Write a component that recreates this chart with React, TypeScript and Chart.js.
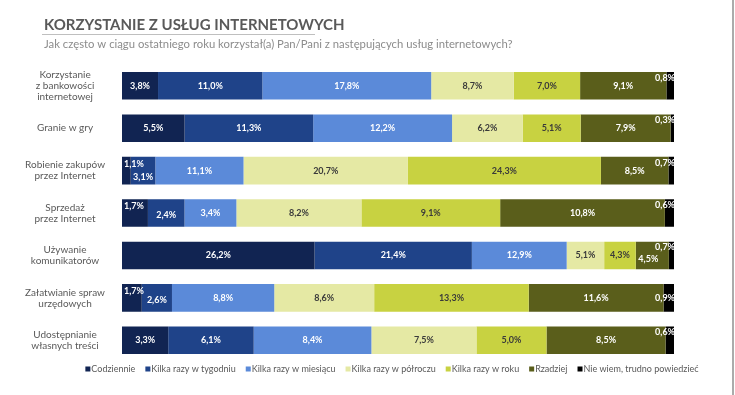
import React, { useEffect, useRef } from 'react';
import { Chart, registerables } from 'chart.js';

Chart.register(...registerables);

const titleText = 'KORZYSTANIE Z USŁUG INTERNETOWYCH';
const subtitleText = 'Jak często w ciągu ostatniego roku korzystał(a) Pan/Pani z następujących usług internetowych?';

const categories: (string | string[])[] = [
  ['Korzystanie', 'z bankowości', 'internetowej'],
  'Granie w gry',
  ['Robienie zakupów', 'przez Internet'],
  ['Sprzedaż', 'przez Internet'],
  ['Używanie', 'komunikatorów'],
  ['Załatwianie spraw', 'urzędowych'],
  ['Udostępnianie', 'własnych treści'],
];

const seriesNames = [
  'Codziennie',
  'Kilka razy w tygodniu',
  'Kilka razy w miesiącu',
  'Kilka razy w półroczu',
  'Kilka razy w roku',
  'Rzadziej',
  'Nie wiem, trudno powiedzieć',
];

const codziennie = [3.8, 5.5, 1.1, 1.7, 26.2, 1.7, 3.3];
const wTygodniu = [11.0, 11.3, 3.1, 2.4, 21.4, 2.6, 6.1];
const wMiesiacu = [17.8, 12.2, 11.1, 3.4, 12.9, 8.8, 8.4];
const wPolroczu = [8.7, 6.2, 20.7, 8.2, 5.1, 8.6, 7.5];
const wRoku = [7.0, 5.1, 24.3, 9.1, 4.3, 13.3, 5.0];
const rzadziej = [9.1, 7.9, 8.5, 10.8, 4.5, 11.6, 8.5];
const nieWiem = [0.8, 0.3, 0.7, 0.6, 0.7, 0.9, 0.6];

const seriesValues = [codziennie, wTygodniu, wMiesiacu, wPolroczu, wRoku, rzadziej, nieWiem];

const colors = ['#112452', '#1F4389', '#5B8AD9', '#E5E9A4', '#C8D241', '#5A5E1B', '#000000'];
const labelColors = ['#FFFFFF', '#FFFFFF', '#FFFFFF', '#3A3A3A', '#3A3A3A', '#FFFFFF', '#FFFFFF'];

const FONT = 'Lato, "Open Sans", sans-serif';

const fmt = (v: number) => v.toFixed(1).replace('.', ',') + '%';

const decorPlugin = {
  id: 'decor',
  afterDraw(chart: any) {
    const ctx = chart.ctx as CanvasRenderingContext2D;
    ctx.save();
    // header
    ctx.fillStyle = '#595959';
    ctx.font = `bold 15px ${FONT}`;
    ctx.textAlign = 'left';
    ctx.textBaseline = 'alphabetic';
    ctx.fillText(titleText, 44, 30);
    ctx.strokeStyle = '#BFBFBF';
    ctx.lineWidth = 1;
    ctx.beginPath();
    ctx.moveTo(42, 34.5);
    ctx.lineTo(315, 34.5);
    ctx.stroke();
    ctx.fillStyle = '#8C8C8C';
    ctx.font = `11.3px ${FONT}`;
    ctx.fillText(subtitleText, 44, 48);
    // right frame line
    ctx.strokeStyle = '#8F8F8F';
    ctx.lineWidth = 1.5;
    ctx.beginPath();
    ctx.moveTo(733, 0);
    ctx.lineTo(733, chart.height);
    ctx.stroke();
    // legend
    ctx.font = `9px ${FONT}`;
    const box = 5;
    const gapBox = 1;
    const gapItem = 10;
    const widths = seriesNames.map((n) => box + gapBox + ctx.measureText(n).width);
    const total = widths.reduce((a, b) => a + b, 0) + gapItem * (seriesNames.length - 1);
    let x = 392 - total / 2;
    const ly = 369;
    ctx.textBaseline = 'middle';
    seriesNames.forEach((n, i) => {
      ctx.fillStyle = colors[i];
      ctx.fillRect(x, ly - box / 2, box, box);
      ctx.fillStyle = '#595959';
      ctx.fillText(n, x + box + gapBox, ly + 0.5);
      x += widths[i] + gapItem;
    });
    ctx.restore();
  },
};

const valueLabelPlugin = {
  id: 'valueLabels',
  afterDatasetsDraw(chart: any) {
    const ctx = chart.ctx as CanvasRenderingContext2D;
    ctx.save();
    ctx.font = `bold 9px ${FONT}`;
    ctx.textBaseline = 'middle';
    const nCat = categories.length;
    const nSer = seriesValues.length;
    for (let j = 0; j < nCat; j++) {
      const bars = [] as any[];
      for (let i = 0; i < nSer; i++) {
        const el = chart.getDatasetMeta(i).data[j];
        const p = el.getProps(['x', 'y', 'base', 'height'], true);
        bars.push({ left: Math.min(p.x, p.base), right: Math.max(p.x, p.base), y: p.y });
      }
      const firstW = bars[0].right - bars[0].left;
      const firstTw = ctx.measureText(fmt(seriesValues[0][j])).width;
      const firstSmall = firstW < firstTw + 8;
      const lastW = bars[nSer - 1].right - bars[nSer - 1].left;
      const lastUp = lastW < 10;
      for (let i = 0; i < nSer; i++) {
        const txt = fmt(seriesValues[i][j]);
        const tw = ctx.measureText(txt).width;
        const b = bars[i];
        const w = b.right - b.left;
        let x = (b.left + b.right) / 2;
        let y = b.y;
        ctx.textAlign = 'center';
        if (i === 0 && firstSmall) {
          ctx.textAlign = 'left';
          x = b.left + 2;
          y = b.y - 7;
        } else if (i === 1 && firstSmall) {
          y = b.y + (firstW < 12 ? 6 : 2);
        } else if (i === nSer - 1) {
          ctx.textAlign = 'right';
          x = b.right + 1;
          y = lastUp ? b.y - 8 : b.y;
        } else if (i === nSer - 2 && lastUp && w < tw + 16) {
          x = x - 4;
          y = b.y + 4;
        }
        ctx.fillStyle = labelColors[i];
        ctx.fillText(txt, x, y);
      }
    }
    ctx.restore();
  },
};

export default function App() {
  const ref = useRef<HTMLCanvasElement | null>(null);
  useEffect(() => {
    document.body.style.margin = '0';
    const canvas = ref.current;
    if (!canvas) return;
    const totals = categories.map((_, j) => seriesValues.reduce((s, arr) => s + arr[j], 0));
    const chart = new Chart(canvas, {
      type: 'bar',
      data: {
        labels: categories as any,
        datasets: seriesValues.map((vals, i) => ({
          label: seriesNames[i],
          data: vals.map((v, j) => (v / totals[j]) * 100),
          backgroundColor: colors[i],
          borderWidth: 0,
          barPercentage: 0.65,
          categoryPercentage: 1,
        })),
      },
      options: {
        indexAxis: 'y',
        responsive: false,
        animation: false,
        devicePixelRatio: 1,
        layout: { padding: { top: 64.6, bottom: 30.6, left: 0, right: 61 } },
        plugins: {
          legend: { display: false },
          title: { display: false },
          tooltip: { enabled: false },
        },
        scales: {
          x: { stacked: true, min: 0, max: 100, display: false },
          y: {
            stacked: true,
            grid: { display: false, drawTicks: false },
            border: { display: false },
            afterFit: (scale: any) => {
              scale.width = 122;
            },
            ticks: {
              crossAlign: 'center',
              padding: 17,
              color: '#595959',
              font: { family: FONT, size: 10, lineHeight: 1.1 },
            },
          },
        },
      },
      plugins: [valueLabelPlugin, decorPlugin],
    });
    return () => chart.destroy();
  }, []);
  return (
    <div style={{ width: 735, height: 395, background: '#FFFFFF' }}>
      <canvas ref={ref} width={735} height={395} style={{ display: 'block' }} />
    </div>
  );
}
